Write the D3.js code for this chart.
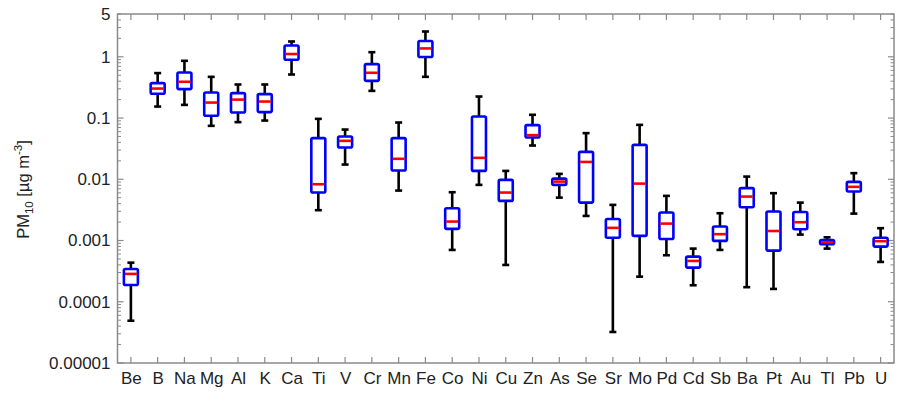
<!DOCTYPE html>
<html>
<head>
<meta charset="utf-8">
<script src="https://cdn.jsdelivr.net/npm/d3@7"></script>
<style>
  html, body { margin: 0; padding: 0; background: #fff; }
  svg { display: block; font-family: "Liberation Sans", Arial, sans-serif; }
</style>
</head>
<body>
<svg id="chart" width="899" height="406"></svg>
<script>
// Elements, in plotting order
const elements = ["Be","B","Na","Mg","Al","K","Ca","Ti","V","Cr","Mn","Fe","Co","Ni","Cu","Zn","As","Se","Sr","Mo","Pd","Cd","Sb","Ba","Pt","Au","Tl","Pb","U"];

// Box statistics per element, PM10 concentration in µg m-3
const whiskerLow = [4.9e-5,0.154,0.164,0.0746,0.0857,0.091,0.514,0.00313,0.0174,0.278,0.00654,0.471,0.000702,0.0081,0.000399,0.0356,0.00502,0.00252,3.21e-5,0.000257,0.000575,0.000186,0.000702,0.000173,0.000162,0.00125,0.000738,0.00275,0.000447];
const q1         = [1.88e-4,0.249,0.297,0.109,0.123,0.125,0.893,0.00607,0.033,0.405,0.0139,0.99,0.00155,0.0137,0.00444,0.048,0.0081,0.00416,0.00111,0.00119,0.00106,0.000361,0.000985,0.0035,0.000684,0.00153,0.000871,0.0063,0.000795];
const median     = [2.85e-4,0.303,0.391,0.179,0.2,0.186,1.11,0.0083,0.0424,0.548,0.0216,1.37,0.00204,0.0224,0.00607,0.0526,0.00917,0.0192,0.00161,0.0085,0.00189,0.000464,0.00127,0.00522,0.00143,0.00199,0.000938,0.00752,0.000975];
const q3         = [3.43e-4,0.372,0.554,0.261,0.255,0.246,1.53,0.047,0.0499,0.76,0.047,1.81,0.00337,0.106,0.00977,0.0766,0.01026,0.028,0.00225,0.0365,0.00286,0.000546,0.00169,0.00716,0.00297,0.00293,0.00102,0.00907,0.00111];
const whiskerHigh= [4.35e-4,0.542,0.86,0.471,0.353,0.353,1.78,0.097,0.0649,1.19,0.0845,2.59,0.00615,0.2246,0.0137,0.113,0.01226,0.0567,0.00382,0.0774,0.00536,0.000738,0.00279,0.01107,0.00593,0.00416,0.00113,0.0126,0.00159];

// Labelled y ticks
const yTickValues = [1e-5,1e-4,1e-3,1e-2,1e-1,1,5];
const yTickLabels = ["0.00001","0.0001","0.001","0.01","0.1","1","5"];

const rows = elements.map((e, i) => ({
  name: e, lo: whiskerLow[i], q1: q1[i], med: median[i], q3: q3[i], hi: whiskerHigh[i]
}));

const svg = d3.select("#chart");
const margin = {left: 117.5, right: 5, top: 14, bottom: 43};
const W = 899, H = 406;
const x0 = margin.left, x1 = W - margin.right, y0 = H - margin.bottom, y1 = margin.top;

const x = d3.scalePoint().domain(elements).range([x0, x1]).padding(0.5);
const y = d3.scaleLog().domain([1e-5, 5]).range([y0, y1]);

const axisColor = "#8a8a8a";
const textColor = "#222";
const fontSize = 17;

// Minor ticks: 2..9 of each decade, within domain
const minor = [];
for (let p = -5; p <= 0; p++) {
  for (let m = 2; m <= 9; m++) {
    const v = m * Math.pow(10, p);
    if (v <= 5 && v >= 1e-5) minor.push(v);
  }
}
const majorDecades = [1e-5,1e-4,1e-3,1e-2,1e-1,1];

const axes = svg.append("g");

// Frame
axes.append("rect")
  .attr("x", x0).attr("y", y1).attr("width", x1 - x0).attr("height", y0 - y1)
  .attr("fill", "none").attr("stroke", axisColor).attr("stroke-width", 1.5);

// Left axis labels
const leftAxis = d3.axisLeft(y).tickValues(yTickValues)
  .tickFormat((d, i) => yTickLabels[i]).tickSize(0).tickPadding(7);
const gL = axes.append("g").attr("transform", `translate(${x0},0)`).call(leftAxis);
gL.select(".domain").remove();
gL.selectAll("text").attr("font-size", fontSize).attr("fill", textColor)
  .attr("font-family", "'Liberation Sans', Arial, sans-serif");

// Inward tick marks on left and right edges
function yTicks(side) {
  const xs = side === "left" ? x0 : x1;
  const dir = side === "left" ? 1 : -1;
  axes.append("g").selectAll("line.major").data(majorDecades).join("line")
    .attr("x1", xs).attr("x2", xs + dir * 6)
    .attr("y1", d => y(d)).attr("y2", d => y(d))
    .attr("stroke", axisColor).attr("stroke-width", 1.2);
  axes.append("g").selectAll("line.minor").data(minor).join("line")
    .attr("x1", xs).attr("x2", xs + dir * 3.5)
    .attr("y1", d => y(d)).attr("y2", d => y(d))
    .attr("stroke", axisColor).attr("stroke-width", 1);
}
yTicks("left");
yTicks("right");

// Bottom axis labels and inward ticks top and bottom
const bottomAxis = d3.axisBottom(x).tickSize(0).tickPadding(9);
const gB = axes.append("g").attr("transform", `translate(0,${y0})`).call(bottomAxis);
gB.select(".domain").remove();
gB.selectAll("text").attr("font-size", fontSize).attr("fill", textColor)
  .attr("font-family", "'Liberation Sans', Arial, sans-serif");

axes.append("g").selectAll("line").data(elements).join("line")
  .attr("x1", d => x(d)).attr("x2", d => x(d))
  .attr("y1", y0).attr("y2", y0 - 6)
  .attr("stroke", axisColor).attr("stroke-width", 1.2);
axes.append("g").selectAll("line").data(elements).join("line")
  .attr("x1", d => x(d)).attr("x2", d => x(d))
  .attr("y1", y1).attr("y2", y1 + 6)
  .attr("stroke", axisColor).attr("stroke-width", 1.2);

// Y axis title
const title = svg.append("text")
  .attr("transform", `translate(29,${(y0 + y1) / 2 + 1}) rotate(-90)`)
  .attr("text-anchor", "middle")
  .attr("font-size", 16.5).attr("fill", textColor);
title.append("tspan").text("PM");
title.append("tspan").text("10").attr("font-size", 11.5).attr("dy", 4);
title.append("tspan").text(" [µg m").attr("dy", -4);
title.append("tspan").text("-3").attr("font-size", 11.5).attr("dy", -7);
title.append("tspan").text("]").attr("dy", 7);

// Box plots
const boxW = 14, capW = 7;
const g = svg.append("g");
const box = g.selectAll("g.box").data(rows).join("g").attr("class", "box");

// whiskers
box.append("line")
  .attr("x1", d => x(d.name)).attr("x2", d => x(d.name))
  .attr("y1", d => y(d.hi)).attr("y2", d => y(d.q3))
  .attr("stroke", "#000").attr("stroke-width", 2.6);
box.append("line")
  .attr("x1", d => x(d.name)).attr("x2", d => x(d.name))
  .attr("y1", d => y(d.q1)).attr("y2", d => y(d.lo))
  .attr("stroke", "#000").attr("stroke-width", 2.6);
// caps
box.append("line")
  .attr("x1", d => x(d.name) - capW / 2).attr("x2", d => x(d.name) + capW / 2)
  .attr("y1", d => y(d.hi)).attr("y2", d => y(d.hi))
  .attr("stroke", "#000").attr("stroke-width", 2.6);
box.append("line")
  .attr("x1", d => x(d.name) - capW / 2).attr("x2", d => x(d.name) + capW / 2)
  .attr("y1", d => y(d.lo)).attr("y2", d => y(d.lo))
  .attr("stroke", "#000").attr("stroke-width", 2.6);
// interquartile box
box.append("rect")
  .attr("x", d => x(d.name) - boxW / 2).attr("width", boxW)
  .attr("y", d => y(d.q3)).attr("height", d => y(d.q1) - y(d.q3))
  .attr("rx", 1.5)
  .attr("fill", "#fff").attr("stroke", "#0000ff").attr("stroke-width", 2.6);
// median
box.append("line")
  .attr("x1", d => x(d.name) - boxW / 2 + 1).attr("x2", d => x(d.name) + boxW / 2 - 1)
  .attr("y1", d => y(d.med)).attr("y2", d => y(d.med))
  .attr("stroke", "#ff0000").attr("stroke-width", 2.6);
</script>
</body>
</html>
